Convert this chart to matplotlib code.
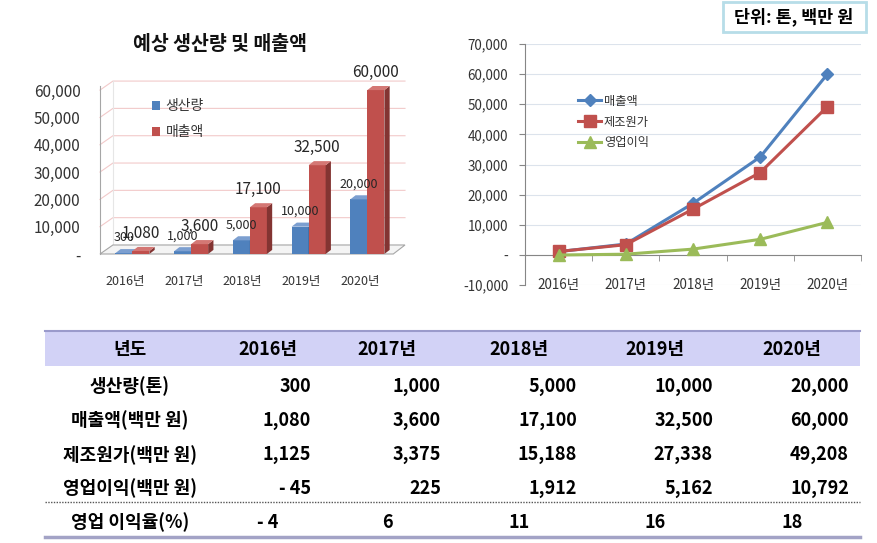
import matplotlib
matplotlib.use('Agg')
import matplotlib.pyplot as plt
from matplotlib.patches import Polygon, Rectangle
from matplotlib.ticker import FuncFormatter
import numpy as np

plt.rcParams['font.family'] = ['Noto Sans CJK KR', 'DejaVu Sans']

# data
years = ['2016년', '2017년', '2018년', '2019년', '2020년']
production = [300, 1000, 5000, 10000, 20000]      # 생산량(톤)
sales = [1080, 3600, 17100, 32500, 60000]         # 매출액(백만 원)
cost = [1125, 3375, 15188, 27338, 49208]          # 제조원가(백만 원)
profit = [-45, 225, 1912, 5162, 10792]            # 영업이익(백만 원)
margin = [-4, 6, 11, 16, 18]                      # 영업 이익율(%)

row_labels = ['생산량(톤)', '매출액(백만 원)', '제조원가(백만 원)', '영업이익(백만 원)']
row_values = [production, sales, cost, profit]

BLUE, BLUE_SIDE, BLUE_TOP = '#4F81BD', '#35598A', '#7C9FD0'
RED, RED_SIDE, RED_TOP = '#C0504D', '#833432', '#D47774'
GREEN = '#9BBB59'
TXT = '#333333'

W, H = 877, 543
fig = plt.figure(figsize=(W / 100, H / 100), dpi=100)


def px_axes(left, top, right, bottom):
    return fig.add_axes([left / W, 1 - bottom / H, (right - left) / W, (bottom - top) / H])


def fmt(v):
    return f'- {abs(v):,}' if v < 0 else f'{v:,}'


x = np.arange(len(years))

# ---- left: 3D-looking bar chart ----
ax1 = px_axes(100, 86, 405, 254)
xmin, xmax = -0.426, 4.766
ax1.set_xlim(xmin, xmax)
ax1.set_ylim(0, 61500)
bw = 0.29
dx, dy = 0.09, 1500
back = 3300

# back wall grid + floor
for v in range(10000, 60001, 10000):
    ax1.plot([xmin, xmin + 0.22, xmax], [v, v + back, v + back], color='#F2CACA',
             lw=0.8, zorder=1, clip_on=False)
ax1.plot([xmin + 0.22, xmin + 0.22], [back, 60000 + back], color='#E6E6E6', lw=0.8, zorder=1, clip_on=False)
ax1.add_patch(Polygon([(xmin, 0), (xmax - 0.2, 0), (xmax, back), (xmin + 0.22, back)], closed=True,
                      fc='#F4F4F4', ec='#A6A6A6', lw=0.8, zorder=1, clip_on=False))


def bar3d(ax, xs, vals, color, side, top, label):
    bars = ax.bar(xs, vals, bw, color=color, label=label, zorder=3, clip_on=False)
    for b in bars:
        x0, x1, h = b.get_x(), b.get_x() + b.get_width(), b.get_height()
        ax.add_patch(Polygon([(x1, 0), (x1 + dx, dy), (x1 + dx, h + dy), (x1, h)], closed=True,
                             fc=side, ec='none', zorder=3, clip_on=False))
        ax.add_patch(Polygon([(x0, h), (x1, h), (x1 + dx, h + dy), (x0 + dx, h + dy)], closed=True,
                             fc=top, ec='none', zorder=3, clip_on=False))
    return bars


bars_p = bar3d(ax1, x - 0.02, production, BLUE, BLUE_SIDE, BLUE_TOP, '생산량')
bars_s = bar3d(ax1, x + 0.27, sales, RED, RED_SIDE, RED_TOP, '매출액')

for xi, v in zip(x - 0.02, production):
    ax1.annotate(f'{v:,}', (xi, v), xytext=(0, 11), textcoords='offset points',
                 ha='center', va='center', fontsize=9, color='#262626', zorder=5)
for xi, v in zip(x + 0.27, sales):
    ax1.annotate(f'{v:,}', (xi, v), xytext=(0, 13), textcoords='offset points',
                 ha='center', va='center', fontsize=11, color='#262626', zorder=5)

ax1.set_xticks(x)
ax1.set_xticklabels(years)
ax1.set_yticks(range(0, 60001, 10000))
ax1.yaxis.set_major_formatter(FuncFormatter(lambda v, p: '-' if v == 0 else f'{v:,.0f}'))
ax1.tick_params(axis='y', length=0, pad=14, labelsize=11, colors=TXT)
ax1.tick_params(axis='x', length=0, pad=15, labelsize=9, colors=TXT)
for s in ['top', 'right', 'bottom']:
    ax1.spines[s].set_visible(False)
ax1.spines['left'].set_color('#A6A6A6')
ax1.patch.set_alpha(0)
ax1.legend(handles=[bars_p, bars_s], loc='upper left', bbox_to_anchor=(0.17, 0.92),
           frameon=False, fontsize=10, handlelength=0.6, handleheight=0.6,
           handletextpad=0.4, labelspacing=0.85, borderpad=0, borderaxespad=0,
           labelcolor=TXT)

fig.text(220 / W, 1 - 44 / H, '예상 생산량 및 매출액', ha='center', va='center',
         fontsize=14, fontweight='bold', color='#111111')

# ---- right: line chart ----
ax2 = px_axes(525, 44, 861, 285)
ax2.plot(x, sales, color=BLUE, lw=2.2, marker='D', ms=6, label='매출액', zorder=4)
ax2.plot(x, cost, color=RED, lw=2.2, marker='s', ms=8, label='제조원가', zorder=4)
ax2.plot(x, profit, color=GREEN, lw=2.2, marker='^', ms=8, label='영업이익', zorder=4)
ax2.set_xlim(-0.5, 4.5)
ax2.set_ylim(-10000, 70000)
ax2.set_yticks(range(-10000, 70001, 10000))
ax2.yaxis.set_major_formatter(FuncFormatter(lambda v, p: '-' if v == 0 else f'{v:,.0f}'))
ax2.grid(axis='y', color='#DCE3EC', lw=0.8)
ax2.set_axisbelow(True)
for s in ['top', 'right']:
    ax2.spines[s].set_visible(False)
ax2.spines['bottom'].set_position(('data', 0))
ax2.spines['bottom'].set_color('#868686')
ax2.spines['left'].set_color('#868686')
ax2.set_xticks(x)
ax2.set_xticklabels(years)
ax2.set_xticks(np.arange(-0.5, 5, 1), minor=True)
ax2.tick_params(axis='x', which='major', length=0, pad=17, labelsize=9.7, colors=TXT)
ax2.tick_params(axis='x', which='minor', length=4, direction='out', color='#868686')
ax2.tick_params(axis='y', length=4, direction='out', color='#868686', pad=8, labelsize=9.7, colors=TXT)
ax2.legend(loc='upper left', bbox_to_anchor=(0.158, 0.79), frameon=False, fontsize=8.8,
           handlelength=1.9, handletextpad=0.2, labelspacing=0.65, borderpad=0,
           borderaxespad=0, labelcolor=TXT)

# ---- overlay: unit box and table ----
axt = fig.add_axes([0, 0, 1, 1])
axt.set_xlim(0, W)
axt.set_ylim(H, 0)
axt.axis('off')
axt.patch.set_alpha(0)

axt.add_patch(Rectangle((723, 2), 143, 30, fc='white', ec='#B7DDE8', lw=2))
axt.text(794, 17, '단위: 톤, 백만 원', ha='center', va='center', fontsize=12.5, fontweight='bold')

axt.add_patch(Rectangle((45, 331), 815, 35, fc='#D2D2F6', ec='none'))
axt.plot([45, 860], [331, 331], color='#9A9ACB', lw=1.5)
axt.plot([45, 860], [502, 502], color='#555555', lw=1, ls=(0, (1, 1)))
axt.plot([45, 860], [537, 537], color='#A3A3C6', lw=2.5)

label_x = 130
col_x = [268, 387, 519, 655, 792]
num_right = [311, 441, 577, 713, 849]
row_y = [386, 420, 455, 488]
tfs = 13

axt.text(label_x, 350, '년도', ha='center', va='center', fontsize=tfs, fontweight='bold')
for cx, yr in zip(col_x, years):
    axt.text(cx, 350, yr, ha='center', va='center', fontsize=tfs, fontweight='bold')

for ry, lab, vals in zip(row_y, row_labels, row_values):
    axt.text(label_x, ry, lab, ha='center', va='center', fontsize=tfs, fontweight='bold')
    for rx, v in zip(num_right, vals):
        axt.text(rx, ry, fmt(v), ha='right', va='center', fontsize=tfs, fontweight='bold')

axt.text(label_x, 522, '영업 이익율(%)', ha='center', va='center', fontsize=tfs, fontweight='bold')
for cx, v in zip(col_x, margin):
    axt.text(cx, 522, fmt(v), ha='center', va='center', fontsize=tfs, fontweight='bold')

fig.savefig('out.png', dpi=100)
